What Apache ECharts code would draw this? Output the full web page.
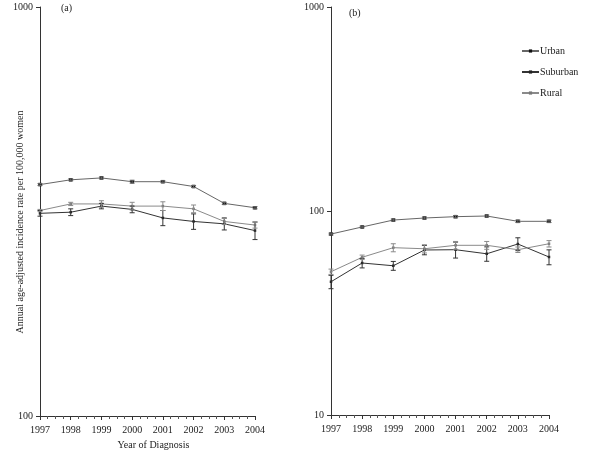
<!DOCTYPE html>
<html><head><meta charset="utf-8">
<script src="https://cdn.jsdelivr.net/npm/echarts@6/dist/echarts.min.js"></script>
<style>html,body{margin:0;padding:0;background:#fff}#c{width:600px;height:450px}</style>
</head><body><div id="c"></div>
<script>
const years = [1997, 1998, 1999, 2000, 2001, 2002, 2003, 2004];
// Panel (a)
const urbanA = [368, 378, 382, 374, 374, 364, 331, 323];
const urbanAErr = [2, 2, 2, 3, 2, 2, 2, 2];
const suburbanA = [313, 315, 326, 320, 305, 299, 295, 284];
const suburbanAErr = [5, 6, 5, 6, 13, 13, 10, 14];
const ruralA = [318, 330, 330, 326, 326, 321, 299, 293];
const ruralAErr = [2, 3, 6, 7, 8, 7, 5, 5];
// Panel (b)
const urbanB = [77.1, 83.5, 90.3, 92.4, 93.8, 94.5, 89.0, 89.0];
const urbanBErr = [0.8, 0.8, 1, 1, 1.2, 1, 1.2, 1.2];
const suburbanB = [45.0, 55.6, 53.9, 64.4, 64.6, 61.7, 68.9, 59.5];
const suburbanBErr = [3.4, 3, 2.7, 3.4, 5.8, 5, 5, 5];
const ruralB = [50.4, 59.3, 66.1, 65.3, 67.9, 67.9, 64.6, 69.1];
const ruralBErr = [1.5, 1.5, 3, 3, 3, 3, 2, 2.5];
const panelLabels = ['(a)', '(b)'];
const yTitle = 'Annual age-adjusted incidence rate per 100,000 women';
const xTitle = 'Year of Diagnosis';
const names = ['Urban', 'Suburban', 'Rural'];

const FONT = 'Liberation Serif';
const colors = { Urban: '#666', Suburban: '#333', Rural: '#8a8a8a' };
const markColors = { Urban: '#111', Suburban: '#222', Rural: '#777' };

function pts(v) { return years.map((y, i) => [y, v[i]]); }
function errs(v, e) { return years.map((y, i) => [y, v[i] - e[i], v[i] + e[i]]); }

function lineSeries(name, v, idx) {
  return {
    name: name, type: 'line', xAxisIndex: idx, yAxisIndex: idx,
    data: pts(v), symbol: 'rect',
    symbolSize: name === 'Urban' ? 3.5 : 2.5, showSymbol: true,
    lineStyle: { color: colors[name], width: 1 },
    itemStyle: { color: markColors[name] }, z: 3
  };
}
function errSeries(name, v, e, idx) {
  return {
    type: 'custom', xAxisIndex: idx, yAxisIndex: idx, silent: true, z: 4,
    data: errs(v, e),
    renderItem: function (params, api) {
      const x = api.value(0);
      const lo = api.coord([x, api.value(1)]);
      const hi = api.coord([x, api.value(2)]);
      const w = 2.5;
      const st = { stroke: colors[name], lineWidth: 1 };
      return { type: 'group', children: [
        { type: 'line', shape: { x1: lo[0], y1: lo[1], x2: hi[0], y2: hi[1] }, style: st },
        { type: 'line', shape: { x1: lo[0] - w, y1: lo[1], x2: lo[0] + w, y2: lo[1] }, style: st },
        { type: 'line', shape: { x1: hi[0] - w, y1: hi[1], x2: hi[0] + w, y2: hi[1] }, style: st }
      ]};
    }
  };
}

const axisLine = { lineStyle: { color: '#333', width: 1 } };
const labelStyle = { fontFamily: FONT, fontSize: 10, color: '#222' };

function xAxis(idx) {
  return {
    type: 'value', gridIndex: idx, min: 1997, max: 2004, interval: 1,
    axisLine: axisLine, splitLine: { show: false },
    axisTick: { show: true, length: 4, lineStyle: { color: '#333' } },
    minorTick: { show: true, splitNumber: 4, length: 3, lineStyle: { color: '#555' } },
    axisLabel: Object.assign({ formatter: v => String(v), margin: 9 }, labelStyle),
    name: idx === 0 ? xTitle : '', nameLocation: 'middle', nameGap: 23,
    nameTextStyle: { fontFamily: FONT, fontSize: 10, color: '#222', padding: [0, 0, 0, 12] }
  };
}
function yAxis(idx, min, max) {
  return {
    type: 'log', logBase: 10, gridIndex: idx, min: min, max: max,
    axisLine: Object.assign({ show: true }, axisLine), splitLine: { show: false },
    axisTick: { show: true, length: 4, lineStyle: { color: '#333' } },
    axisLabel: Object.assign({ margin: 7, formatter: v => String(Math.round(v)) }, labelStyle)
  };
}

const chart = echarts.init(document.getElementById('c'), null, { renderer: 'canvas' });
chart.setOption({
  backgroundColor: '#fff',
  animation: false,
  grid: [
    { left: 40, top: 7, width: 215, height: 409, outerBoundsMode: 'none', containLabel: false },
    { left: 331, top: 7, width: 218, height: 408, outerBoundsMode: 'none', containLabel: false }
  ],
  xAxis: [xAxis(0), xAxis(1)],
  yAxis: [yAxis(0, 100, 1000), yAxis(1, 10, 1000)],
  legend: {
    data: names, orient: 'vertical', left: 516, top: 41, itemGap: 11,
    itemWidth: 17, itemHeight: 4,
    textStyle: { fontFamily: FONT, fontSize: 10, color: '#222', padding: [0, 0, 0, -4] }
  },
  graphic: [
    { type: 'text', left: 61, top: 3, style: { text: panelLabels[0], font: '10px ' + FONT, fill: '#222' } },
    { type: 'text', left: 349, top: 8, style: { text: panelLabels[1], font: '10px ' + FONT, fill: '#222' } },
    { type: 'text', x: 20, y: 222, rotation: Math.PI / 2,
      style: { text: yTitle, font: '10px ' + FONT, fill: '#222', align: 'center', verticalAlign: 'middle' } }
  ],
  series: [
    lineSeries('Urban', urbanA, 0), errSeries('Urban', urbanA, urbanAErr, 0),
    lineSeries('Suburban', suburbanA, 0), errSeries('Suburban', suburbanA, suburbanAErr, 0),
    lineSeries('Rural', ruralA, 0), errSeries('Rural', ruralA, ruralAErr, 0),
    lineSeries('Urban', urbanB, 1), errSeries('Urban', urbanB, urbanBErr, 1),
    lineSeries('Suburban', suburbanB, 1), errSeries('Suburban', suburbanB, suburbanBErr, 1),
    lineSeries('Rural', ruralB, 1), errSeries('Rural', ruralB, ruralBErr, 1)
  ]
});
</script></body></html>
